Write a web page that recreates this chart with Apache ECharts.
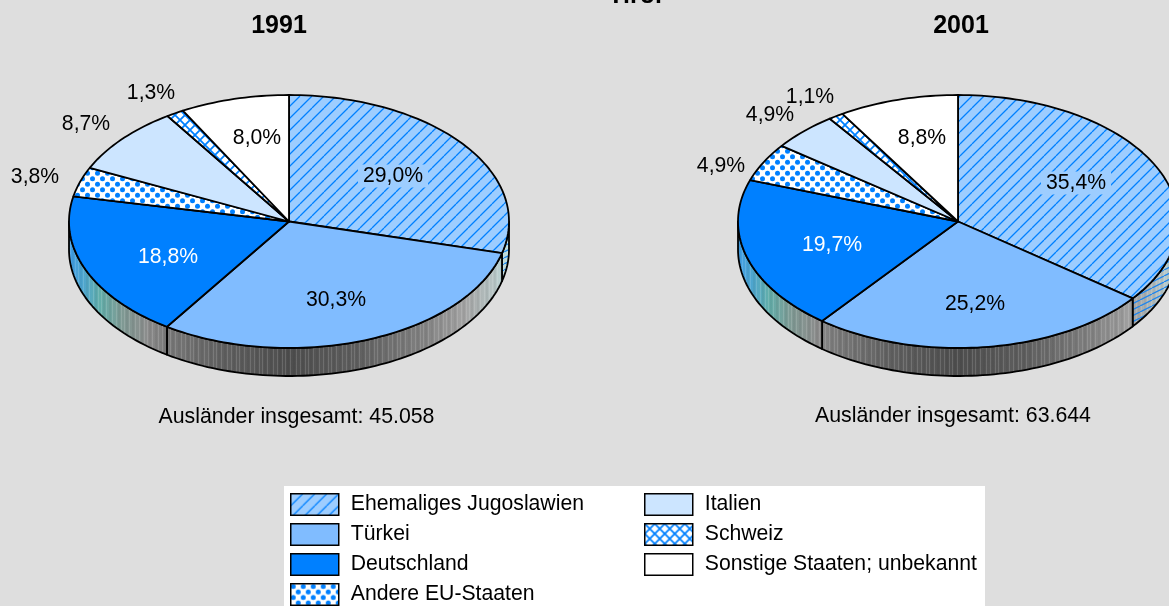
<!DOCTYPE html>
<html>
<head>
<meta charset="utf-8">
<style>
  html, body { margin: 0; padding: 0; background: #dedede; }
  #main { width: 1169px; height: 606px; }
</style>
<script src="https://cdn.jsdelivr.net/npm/echarts@6/dist/echarts.min.js"></script>
</head>
<body>
<div id="main"></div>
<script>
// Daten
var categories = ['Ehemaliges Jugoslawien', 'Türkei', 'Deutschland', 'Andere EU-Staaten', 'Italien', 'Schweiz', 'Sonstige Staaten; unbekannt'];
var values1991 = [29.0, 30.3, 18.8, 3.8, 8.7, 1.3, 8.0];
var values2001 = [35.4, 25.2, 19.7, 4.9, 4.9, 1.1, 8.8];
var years = ['1991', '2001'];
var totals = ['45.058', '63.644'];

// Label-Positionen in Pixeln (im Original von Hand gesetzt)
var labelPos1991 = [[393, 176], [336, 300], [168, 257], [35, 177], [86, 124], [151, 93], [257, 138]];
var labelPos2001 = [[1076, 183], [975, 304], [832, 245], [721, 166], [770, 115], [810, 97], [922, 138]];

var FONT = '"Liberation Sans", Arial, sans-serif';
var DEPTH = 0.2213; // Höhe der Seitenwand in y-Achsen-Einheiten
var LABEL_SIZE = 21.2;

function tile(w, h, draw) {
  var c = document.createElement('canvas');
  c.width = w;
  c.height = h;
  draw(c.getContext('2d'), w, h);
  return { image: c, repeat: 'repeat' };
}

function hatchLines(ctx, w, color, width) {
  ctx.strokeStyle = color;
  ctx.lineWidth = width;
  ctx.beginPath();
  for (var i = -w; i <= w; i += w) {
    ctx.moveTo(i, w);
    ctx.lineTo(i + w, 0);
  }
  ctx.stroke();
}

var hatchFill = tile(12, 12, function (ctx, w, h) {
  ctx.fillStyle = '#9dcdff';
  ctx.fillRect(0, 0, w, h);
  hatchLines(ctx, w, '#0080ff', 1.3);
});
var wallHatch = tile(12, 6, function (ctx, w, h) {
  // auf der Wand laufen die Schraffurlinien flacher
  ctx.strokeStyle = '#1f86ee';
  ctx.lineWidth = 1.3;
  ctx.beginPath();
  ctx.moveTo(0, h); ctx.lineTo(w, 0);
  ctx.moveTo(-w, h); ctx.lineTo(0, 0);
  ctx.moveTo(w, h); ctx.lineTo(2 * w, 0);
  ctx.stroke();
});
var dotFill = tile(10, 11, function (ctx, w, h) {
  ctx.fillStyle = '#fff';
  ctx.fillRect(0, 0, w, h);
  ctx.fillStyle = '#0080ff';
  [[2.5, 2.75], [7.5, 8.25]].forEach(function (p) {
    ctx.beginPath();
    ctx.arc(p[0], p[1], 2.5, 0, Math.PI * 2);
    ctx.fill();
  });
});
var crossFill = tile(10, 10, function (ctx, w, h) {
  ctx.fillStyle = '#fff';
  ctx.fillRect(0, 0, w, h);
  ctx.strokeStyle = '#0080ff';
  ctx.lineWidth = 1.8;
  ctx.beginPath();
  ctx.moveTo(0, 0); ctx.lineTo(w, h);
  ctx.moveTo(0, h); ctx.lineTo(w, 0);
  ctx.stroke();
});
// feine senkrechte Streifen der Seitenwand
var wallStripes = tile(23, 4, function (ctx, w, h) {
  ctx.fillStyle = 'rgba(255,255,255,0.14)';
  [1, 6, 9, 14, 20].forEach(function (x) { ctx.fillRect(x, 0, 1, h); });
  ctx.fillStyle = 'rgba(0,0,0,0.05)';
  [3, 11, 17].forEach(function (x) { ctx.fillRect(x, 0, 2, h); });
});

var fills = [hatchFill, '#80bcff', '#0080ff', dotFill, '#cce5ff', crossFill, '#ffffff'];
var labelColors = ['#000', '#000', '#fff', '#000', '#000', '#000', '#000'];
var labelBg = ['#9dcdff', null, null, null, null, null, null];

var wallStops = [
  { offset: 0, color: '#3f9ee8' },
  { offset: 0.035, color: '#4fa6cc' },
  { offset: 0.07, color: '#62aeaa' },
  { offset: 0.12, color: '#7f9a94' },
  { offset: 0.18, color: '#8c8c8c' },
  { offset: 0.22, color: '#7a7a7a' },
  { offset: 0.35, color: '#606060' },
  { offset: 0.5, color: '#4e4e4e' },
  { offset: 0.65, color: '#5e5e5e' },
  { offset: 0.8, color: '#808080' },
  { offset: 0.9, color: '#a4a4a4' },
  { offset: 0.965, color: '#b6c4c4' },
  { offset: 1, color: '#c0e2e2' }
];

function arcPoints(api, from, to, drop) {
  var pts = [];
  var steps = Math.max(2, Math.ceil(Math.abs(to - from) / 1.5));
  for (var i = 0; i <= steps; i++) {
    var t = (from + (to - from) * i / steps) * Math.PI / 180;
    pts.push(api.coord([Math.sin(t), Math.cos(t) - drop]));
  }
  return pts;
}

function renderSlice(catIndex, labelPos, params, api) {
  var start = api.value(0);
  var end = api.value(1);
  var value = api.value(2);
  var centre = api.coord([0, 0]);
  var left = api.coord([-1, 0])[0];
  var right = api.coord([1, 0])[0];
  var children = [];

  // sichtbarer Teil der Seitenwand liegt zwischen 90 und 270 Grad
  var wFrom = Math.max(start, 90);
  var wTo = Math.min(end, 270);
  if (wTo > wFrom) {
    var wall = arcPoints(api, wFrom, wTo, 0).concat(arcPoints(api, wTo, wFrom, DEPTH));
    children.push({
      type: 'polygon',
      shape: { points: wall },
      style: { fill: { type: 'linear', x: left, y: 0, x2: right, y2: 0, global: true, colorStops: wallStops }, stroke: null }
    });
    children.push({
      type: 'polygon',
      shape: { points: wall },
      style: { fill: wallStripes, stroke: null }
    });
    if (catIndex === 0) {
      children.push({
        type: 'polygon',
        shape: { points: wall },
        style: { fill: wallHatch, stroke: null }
      });
    }
    children.push({
      type: 'polygon',
      shape: { points: wall },
      style: { fill: null, stroke: '#000', lineWidth: 1.8, lineJoin: 'round' }
    });
  }

  children.push({
    type: 'polygon',
    shape: { points: [centre].concat(arcPoints(api, start, end, 0)) },
    style: { fill: fills[catIndex], stroke: '#000', lineWidth: 1.8, lineJoin: 'round' }
  });
  children.push({
    type: 'text',
    z2: 10,
    style: {
      text: value.toFixed(1).replace('.', ',') + '%',
      x: labelPos[catIndex][0],
      y: labelPos[catIndex][1],
      align: 'center',
      verticalAlign: 'middle',
      fill: labelColors[catIndex],
      font: LABEL_SIZE + 'px ' + FONT,
      backgroundColor: labelBg[catIndex],
      padding: [1, 5]
    }
  });
  return { type: 'group', children: children };
}

var series = [];
[values1991, values2001].forEach(function (values, pie) {
  var labelPos = pie === 0 ? labelPos1991 : labelPos2001;
  var total = values.reduce(function (a, b) { return a + b; }, 0);
  var sum = 0;
  values.forEach(function (v, i) {
    series.push({
      type: 'custom',
      name: categories[i],
      coordinateSystem: 'cartesian2d',
      xAxisIndex: pie,
      yAxisIndex: pie,
      silent: true,
      animation: false,
      clip: false,
      itemStyle: { color: fills[i] },
      renderItem: renderSlice.bind(null, i, labelPos),
      // Start- und Endwinkel in Grad, dann der Wert
      data: [[sum / total * 360, (sum + v) / total * 360, v]]
    });
    sum += v;
  });
});

function legendItems(from, to) {
  return categories.slice(from, to).map(function (name, i) {
    return {
      name: name,
      icon: 'rect',
      itemStyle: { color: fills[from + i], borderColor: '#000', borderWidth: 1.5 }
    };
  });
}

function legendOption(left, from, to) {
  return {
    orient: 'vertical',
    left: left,
    top: 493,
    padding: 0,
    itemWidth: 48,
    itemHeight: 21.5,
    itemGap: 7,
    selectedMode: false,
    textStyle: { fontFamily: FONT, fontSize: 21.2, lineHeight: 22, color: '#000', padding: [0, 0, 0, 7] },
    data: legendItems(from, to)
  };
}

function titleOption(text, x, top, size, weight) {
  return {
    text: text,
    left: x,
    top: top,
    padding: 0,
    textAlign: 'center',
    textStyle: { fontFamily: FONT, fontSize: size, fontWeight: weight, color: '#000' }
  };
}

var myChart = echarts.init(document.getElementById('main'));
myChart.setOption({
  backgroundColor: '#dedede',
  animation: false,
  title: [
    titleOption('Tirol', 635, -16, 25, 'bold'),
    titleOption(years[0], 279, 14, 25, 'bold'),
    titleOption(years[1], 961, 14, 25, 'bold'),
    titleOption('Ausländer insgesamt: ' + totals[0], 296.5, 407, 21.3, 'normal'),
    titleOption('Ausländer insgesamt: ' + totals[1], 953, 406, 21.3, 'normal')
  ],
  graphic: [{
    type: 'rect',
    z: -1,
    shape: { x: 284, y: 486, width: 701, height: 120 },
    style: { fill: '#fff' }
  }],
  legend: [legendOption(290, 0, 4), legendOption(644, 4, 7)],
  grid: [
    { left: 69, top: 95, width: 440, height: 281 },
    // rechte Torte läuft über den Rand: 220 px je Einheit, Achse endet am Bildrand
    { left: 738, top: 95, width: 431, height: 281 }
  ],
  xAxis: [
    { type: 'value', gridIndex: 0, min: -1, max: 1, show: false },
    { type: 'value', gridIndex: 1, min: -1, max: 0.9591, show: false }
  ],
  yAxis: [
    { type: 'value', gridIndex: 0, min: -1 - DEPTH, max: 1, show: false },
    { type: 'value', gridIndex: 1, min: -1 - DEPTH, max: 1, show: false }
  ],
  series: series
});
</script>
</body>
</html>
